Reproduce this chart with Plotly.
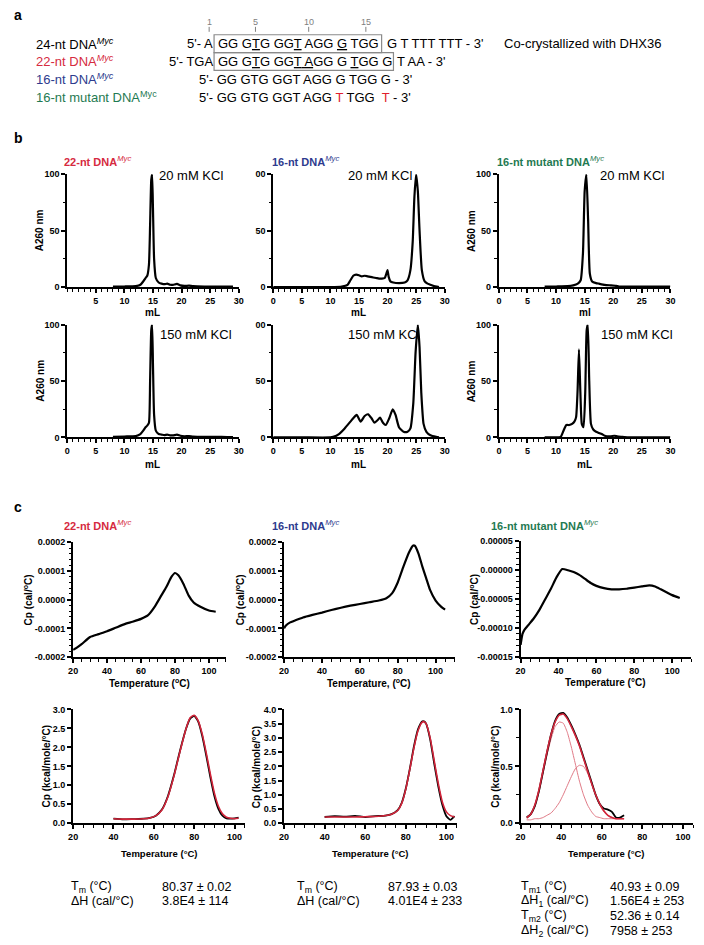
import plotly.graph_objects as go

# page geometry: the browser adds an 8px body margin, so every position below is given in
# page pixels and shifted by that margin inside a 696x937 figure.
PAGE_OFF = 8
FW, FH = 696, 937
FONT = "Liberation Sans, Arial, Helvetica, sans-serif"
RED = "#d62a40"
BLUE = "#2e3b8e"
GREEN = "#1f7a52"
FIT_RED = "#d3243a"
COMP_RED = "#e07a86"
GREY = "#808080"

# ---------------- panel b : size-exclusion chromatograms (A260 vs mL) ----------------
b_ml_22nt_20mM = [8, 10, 12, 12.8, 13.3, 13.7, 14.0, 14.3, 14.5, 14.7, 14.85, 15.0, 15.2, 15.5, 16.0, 16.5,
                  17.0, 17.5, 18.0, 18.5, 19.2, 19.8, 20.5, 21.3, 22, 24, 26, 28, 29]
b_a260_22nt_20mM = [0.5, 0.5, 0.8, 2, 5, 8, 10, 20, 55, 95, 100, 70, 25, 8, 4, 3,
                    2.5, 3, 2, 2, 2.8, 1.5, 1, 1.2, 0.8, 0.5, 0.5, 0.4, 0.4]

b_ml_16nt_20mM = [0, 5, 10, 12, 13, 13.5, 14, 14.5, 15, 15.5, 16, 16.5, 17, 17.5, 18, 18.5, 19, 19.5, 19.8,
                  20.0, 20.2, 20.5, 21, 22, 23, 23.5, 24, 24.4, 24.7, 25.0, 25.3, 25.6, 26.0, 26.5, 27, 27.5, 28, 29]
b_a260_16nt_20mM = [0, 0, 0, 0.5, 2, 6, 10, 11, 10.5, 9.5, 10, 9.5, 9, 8.5, 8, 7.5, 7.5, 8, 12,
                    15, 9, 5, 4, 3.5, 4, 6, 15, 40, 80, 100, 85, 50, 15, 5, 3, 2, 1, 0]

b_ml_mut_20mM = [8, 10, 12, 13, 13.8, 14.3, 14.7, 15.0, 15.3, 15.6, 15.9, 16.3, 17, 17.5, 18.5, 19.5, 20.5,
                 21, 23, 26, 30]
b_a260_mut_20mM = [0.3, 0.5, 0.8, 1.5, 3, 6, 30, 85, 100, 60, 12, 5, 3.5, 3, 2, 1.5, 1,
                   0.5, 0.3, 0.3, 0.3]

b_ml_22nt_150mM = [8, 10, 12, 12.8, 13.3, 13.7, 14.0, 14.3, 14.5, 14.7, 14.85, 15.0, 15.2, 15.5, 16.0, 16.5,
                   17.0, 17.5, 18.0, 18.5, 19.2, 19.8, 20.5, 21.3, 22, 24, 26, 28, 29]
b_a260_22nt_150mM = [0.5, 0.8, 1.2, 3, 6, 9, 10.5, 13, 50, 95, 100, 65, 20, 6, 3, 2.5,
                     2, 2.5, 1.8, 1.8, 2.5, 1.5, 1, 1.2, 0.8, 0.5, 0.5, 0.3, 0.3]

b_ml_16nt_150mM = [0, 5, 10, 10.5, 11.5, 12.5, 13.5, 14.0, 14.6, 15.3, 16.0, 16.6, 17.2, 17.7, 18.2, 18.7,
                   19.2, 19.7, 20.3, 20.9, 21.4, 22.0, 22.8, 23.5, 24.0, 24.5, 24.9, 25.3, 25.6, 25.9,
                   26.3, 26.8, 27.5, 28.5, 29]
b_a260_16nt_150mM = [0, 0, 0, 0.5, 3, 8, 14, 17, 20, 14, 19, 20.5, 17, 13, 15, 17.5,
                     13, 11, 17, 25, 20, 9, 5, 5, 8, 30, 75, 100, 80, 40,
                     12, 5, 2, 0.5, 0]

b_ml_mut_150mM = [8, 10, 10.8, 11.3, 11.8, 12.3, 12.8, 13.2, 13.5, 13.75, 14.0, 14.25, 14.5, 14.8, 15.1,
                  15.35, 15.55, 15.8, 16.1, 16.5, 17.0, 17.5, 18.0, 18.5, 19.5, 20.2, 20.7, 21.5, 22, 23, 26, 30]
b_a260_mut_150mM = [0, 0, 0.5, 6, 11, 11, 12, 14, 18, 40, 78, 40, 12, 9, 40,
                    95, 100, 50, 12, 7, 5, 4, 3, 1.5, 1, 1.5, 1, 0.5, 0.2, 0, 0, 0]

# ---------------- panel c, row 1 : raw DSC traces ----------------
c_T_22nt_raw = [20, 22, 25, 30, 35, 40, 45, 50, 55, 60, 64, 68, 72, 75, 78, 80, 82, 85, 88, 91, 95, 100, 104]
c_cp_22nt_raw = [-1.75e-4, -1.68e-4, -1.55e-4, -1.30e-4, -1.20e-4, -1.10e-4, -0.98e-4, -0.86e-4, -0.77e-4,
                 -0.67e-4, -0.55e-4, -0.25e-4, 0.15e-4, 0.45e-4, 0.80e-4, 0.93e-4, 0.85e-4, 0.55e-4,
                 0.15e-4, -0.10e-4, -0.25e-4, -0.38e-4, -0.42e-4]

c_T_16nt_raw = [20, 21, 23, 26, 30, 35, 40, 45, 50, 55, 60, 65, 70, 74, 77, 80, 83, 86, 88, 89, 91, 93, 95,
                97, 100, 103, 105]
c_cp_16nt_raw = [-1.0e-4, -0.9e-4, -0.8e-4, -0.72e-4, -0.62e-4, -0.53e-4, -0.45e-4, -0.36e-4, -0.28e-4,
                 -0.21e-4, -0.15e-4, -0.09e-4, -0.03e-4, 0.05e-4, 0.22e-4, 0.6e-4, 1.15e-4, 1.65e-4,
                 1.88e-4, 1.88e-4, 1.6e-4, 1.15e-4, 0.75e-4, 0.35e-4, -0.03e-4, -0.25e-4, -0.35e-4]

c_T_mut_raw = [20, 21, 22, 24, 27, 30, 33, 36, 39, 42, 45, 48, 51, 54, 57, 60, 64, 68, 72, 76, 80, 84, 88,
               91, 94, 97, 100, 104]
c_cp_mut_raw = [-12.9e-5, -11.0e-5, -10.3e-5, -9.5e-5, -8.3e-5, -6.8e-5, -5.0e-5, -3.2e-5, -1.2e-5, 0.2e-5,
                0.0e-5, -0.3e-5, -0.8e-5, -1.5e-5, -2.2e-5, -2.7e-5, -3.1e-5, -3.3e-5, -3.3e-5, -3.2e-5,
                -3.0e-5, -2.8e-5, -2.6e-5, -2.8e-5, -3.3e-5, -3.8e-5, -4.3e-5, -4.8e-5]

# ---------------- panel c, row 2 : baseline-corrected Cp with fits ----------------
c_T_22nt = [40, 45, 50, 55, 58, 61, 64, 67, 70, 73, 76, 78, 80, 82, 84, 86, 88, 90, 92, 94, 96, 98, 100, 102]
c_cp_22nt_data = [0.12, 0.10, 0.11, 0.12, 0.14, 0.20, 0.36, 0.72, 1.27, 1.92, 2.50, 2.76, 2.83, 2.68, 2.30,
                  1.78, 1.22, 0.72, 0.38, 0.20, 0.13, 0.12, 0.13, 0.15]
c_cp_22nt_fit = [0.12, 0.11, 0.11, 0.12, 0.14, 0.20, 0.35, 0.70, 1.25, 1.90, 2.50, 2.78, 2.85, 2.70, 2.35,
                 1.85, 1.30, 0.80, 0.45, 0.25, 0.16, 0.13, 0.12, 0.13]

c_T_16nt = [40, 45, 50, 55, 60, 65, 70, 73, 76, 78, 80, 82, 84, 86, 88, 89, 90, 92, 94, 96, 98, 100, 102, 104]
c_cp_16nt_data = [0.22, 0.25, 0.23, 0.26, 0.22, 0.25, 0.27, 0.32, 0.46, 0.72, 1.22, 1.92, 2.70, 3.30, 3.58,
                  3.58, 3.50, 2.95, 2.10, 1.30, 0.65, 0.25, 0.12, 0.25]
c_cp_16nt_fit = [0.22, 0.22, 0.22, 0.22, 0.23, 0.24, 0.27, 0.32, 0.45, 0.70, 1.20, 1.90, 2.65, 3.25, 3.55,
                 3.57, 3.50, 3.00, 2.20, 1.40, 0.75, 0.40, 0.27, 0.22]

c_T_mut = [23, 25, 27, 29, 31, 33, 35, 37, 39, 41, 43, 45, 47, 49, 51, 53, 55, 57, 59, 61, 63, 65, 67, 69, 71]
c_cp_mut_data = [0.05, 0.08, 0.15, 0.28, 0.45, 0.62, 0.78, 0.90, 0.96, 0.97, 0.93, 0.86, 0.78, 0.69, 0.58,
                 0.47, 0.36, 0.25, 0.17, 0.13, 0.12, 0.10, 0.05, 0.05, 0.07]
c_cp_mut_fit = [0.05, 0.08, 0.16, 0.29, 0.46, 0.63, 0.78, 0.89, 0.95, 0.96, 0.92, 0.85, 0.77, 0.68, 0.57,
                0.46, 0.35, 0.25, 0.17, 0.11, 0.07, 0.05, 0.04, 0.04, 0.04]
c_cp_mut_comp1 = [0.04, 0.07, 0.15, 0.27, 0.43, 0.60, 0.74, 0.85, 0.89, 0.88, 0.80, 0.67, 0.52, 0.37, 0.25,
                  0.16, 0.10, 0.06, 0.05, 0.04, 0.04, 0.04, 0.04, 0.04, 0.04]
c_cp_mut_comp2 = [0.03, 0.03, 0.04, 0.04, 0.05, 0.07, 0.09, 0.13, 0.18, 0.25, 0.33, 0.41, 0.48, 0.51, 0.50,
                  0.44, 0.35, 0.25, 0.16, 0.10, 0.07, 0.05, 0.04, 0.04, 0.04]

# ---------------- tick labels ----------------
sec_y_ticks = [0, 50, 100]
sec_y_ticktext = ["0", "50", "100"]
sec_y_ticktext_cut = ["0", "50", "00"]
sec_x_ticks = [0, 5, 10, 15, 20, 25, 30]
cp_raw_ticks = [-2e-4, -1e-4, 0, 1e-4, 2e-4]
cp_raw_ticktext = ["-0.0002", "-0.0001", "0.0000", "0.0001", "0.0002"]
cp_mut_ticks = [-1.5e-4, -1e-4, -0.5e-4, 0, 0.5e-4]
cp_mut_ticktext = ["-0.00015", "-0.00010", "-0.00005", "0.00000", "0.00005"]
temp_ticks = [20, 40, 60, 80, 100]

fig = go.Figure()


def fx(p):
    return (p - PAGE_OFF) / FW


def fy(p):
    return 1 - (p - PAGE_OFF) / FH


TICKFONT = dict(family=FONT, size=9, color="black", weight="bold")


def axis(dom, rng, tickvals, ticktext, minor_vals, anchor, is_y):
    if is_y:
        domain = [fy(dom[1]), fy(dom[0])]
    else:
        domain = [fx(dom[0]), fx(dom[1])]
    return dict(domain=domain, range=rng, anchor=anchor, showline=True, linecolor="black", linewidth=2,
                ticks="outside", ticklen=4, tickwidth=1.5, tickcolor="black", showgrid=False,
                zeroline=False, tickmode="array", tickvals=tickvals, ticktext=ticktext,
                tickfont=TICKFONT, fixedrange=True,
                minor=dict(tickmode="array", tickvals=minor_vals, ticks="outside", ticklen=2.5,
                           tickwidth=1.2, tickcolor="black", showgrid=False))


layout_axes = {}
panel_index = [0]


def add_panel(xdom, ydom, xr, yr, xt, xtt, xm, yt, ytt, ym, traces):
    panel_index[0] += 1
    i = panel_index[0]
    xs = "x" if i == 1 else f"x{i}"
    ys = "y" if i == 1 else f"y{i}"
    xk = "xaxis" if i == 1 else f"xaxis{i}"
    yk = "yaxis" if i == 1 else f"yaxis{i}"
    layout_axes[xk] = axis(xdom, xr, xt, xtt, xm, ys, False)
    layout_axes[yk] = axis(ydom, yr, yt, ytt, ym, xs, True)
    for xv, yv, color, width in traces:
        fig.add_trace(go.Scatter(x=xv, y=yv, mode="lines", xaxis=xs, yaxis=ys, hoverinfo="skip",
                                 line=dict(color=color, width=width, shape="spline", smoothing=0.5)))


ml_minor = list(range(0, 31))
sec_minor = [25, 75]

# panel b row 1
add_panel((63, 237), (171, 285), [0, 30], [0, 100], sec_x_ticks[1:], [str(v) for v in sec_x_ticks[1:]],
          ml_minor, sec_y_ticks, sec_y_ticktext, sec_minor,
          [(b_ml_22nt_20mM, b_a260_22nt_20mM, "black", 2.2)])
add_panel((272, 446), (171, 285), [0, 30], [0, 100], sec_x_ticks, [str(v) for v in sec_x_ticks],
          ml_minor, sec_y_ticks, sec_y_ticktext_cut, sec_minor,
          [(b_ml_16nt_20mM, b_a260_16nt_20mM, "black", 2.2)])
add_panel((501, 675), (171, 285), [0, 30], [0, 100], sec_x_ticks, [str(v) for v in sec_x_ticks],
          ml_minor, sec_y_ticks, sec_y_ticktext, sec_minor,
          [(b_ml_mut_20mM, b_a260_mut_20mM, "black", 2.2)])
# panel b row 2
add_panel((63, 237), (323, 437), [0, 30], [0, 100], sec_x_ticks, [str(v) for v in sec_x_ticks],
          ml_minor, sec_y_ticks, sec_y_ticktext, sec_minor,
          [(b_ml_22nt_150mM, b_a260_22nt_150mM, "black", 2.2)])
add_panel((272, 446), (323, 437), [0, 30], [0, 100], sec_x_ticks, [str(v) for v in sec_x_ticks],
          ml_minor, sec_y_ticks, sec_y_ticktext_cut, sec_minor,
          [(b_ml_16nt_150mM, b_a260_16nt_150mM, "black", 2.2)])
add_panel((501, 675), (323, 437), [0, 30], [0, 100], sec_x_ticks, [str(v) for v in sec_x_ticks],
          ml_minor, sec_y_ticks, sec_y_ticktext, sec_minor,
          [(b_ml_mut_150mM, b_a260_mut_150mM, "black", 2.2)])

t_minor_110 = list(range(20, 111, 5))
t_minor_105 = list(range(20, 106, 5))
raw_minor = [v * 1e-5 for v in range(-20, 21, 2)]
mut_minor = [v * 1e-5 for v in range(-15, 6, 1)]

# panel c row 1
add_panel((69, 224), (543, 659), [20, 110], [-2e-4, 2e-4], temp_ticks, [str(v) for v in temp_ticks],
          t_minor_110, cp_raw_ticks, cp_raw_ticktext, raw_minor,
          [(c_T_22nt_raw, c_cp_22nt_raw, "black", 2.2)])
add_panel((283, 456), (543, 659), [20, 110], [-2e-4, 2e-4], temp_ticks, [str(v) for v in temp_ticks],
          t_minor_110, cp_raw_ticks, cp_raw_ticktext, raw_minor,
          [(c_T_16nt_raw, c_cp_16nt_raw, "black", 2.2)])
add_panel((523, 696), (542, 659), [20, 110], [-1.5e-4, 0.5e-4], temp_ticks, [str(v) for v in temp_ticks],
          t_minor_110, cp_mut_ticks, cp_mut_ticktext, mut_minor,
          [(c_T_mut_raw, c_cp_mut_raw, "black", 2.2)])
# panel c row 2
add_panel((69, 243), (712, 827), [20, 105], [0, 3], temp_ticks, [str(v) for v in temp_ticks],
          t_minor_105, [0, 0.5, 1, 1.5, 2, 2.5, 3], ["0.0", "0.5", "1.0", "1.5", "2.0", "2.5", "3.0"], [],
          [(c_T_22nt, c_cp_22nt_data, "black", 1.8), (c_T_22nt, c_cp_22nt_fit, FIT_RED, 1.6)])
add_panel((283, 458), (712, 827), [20, 105], [0, 4], temp_ticks, [str(v) for v in temp_ticks],
          t_minor_105, [0, 0.5, 1, 1.5, 2, 2.5, 3, 3.5, 4],
          ["0.0", "0.5", "1.0", "1.5", "2.0", "2.5", "3.0", "3.5", "4.0"], [],
          [(c_T_16nt, c_cp_16nt_data, "black", 1.8), (c_T_16nt, c_cp_16nt_fit, FIT_RED, 1.6)])
add_panel((523, 698), (712, 827), [20, 105], [0, 1], temp_ticks, [str(v) for v in temp_ticks],
          t_minor_105, [0, 0.5, 1], ["0.0", "0.5", "1.0"], [0.25, 0.75],
          [(c_T_mut, c_cp_mut_comp1, COMP_RED, 1), (c_T_mut, c_cp_mut_comp2, COMP_RED, 1),
           (c_T_mut, c_cp_mut_data, "black", 1.8), (c_T_mut, c_cp_mut_fit, FIT_RED, 1.6)])


def txt(x, y, s, size=13, color="black", xanchor="left", yanchor="middle", angle=0):
    fig.add_annotation(x=fx(x), y=fy(y), xref="paper", yref="paper", text=s, showarrow=False,
                       xanchor=xanchor, yanchor=yanchor, textangle=angle, borderpad=0,
                       font=dict(family=FONT, size=size, color=color))


def U(s):
    return f"<span style='text-decoration:underline'>{s}</span>"


# ---------------- panel a ----------------
SEQ = 13
ROWS = [39, 57, 75, 93]
txt(8, 10, "<b>a</b>", 14)
for xn, lab in [(207, "1"), (254, "5"), (308, "10"), (366, "15")]:
    txt(xn, 17, lab, 9, GREY, xanchor="center")
    fig.add_shape(type="line", xref="paper", yref="paper", x0=fx(xn), x1=fx(xn), y0=fy(22), y1=fy(27),
                  line=dict(color=GREY, width=1))

txt(30, ROWS[0], "24-nt DNA<sup><i>Myc</i></sup>", SEQ, "black")
txt(30, ROWS[1], "22-nt DNA<sup><i>Myc</i></sup>", SEQ, RED)
txt(30, ROWS[2], "16-nt DNA<sup><i>Myc</i></sup>", SEQ, BLUE)
txt(30, ROWS[3], "16-nt mutant DNA<sup>Myc</sup>", SEQ, GREEN)

txt(212, ROWS[0], "5'- A", SEQ, xanchor="right")
txt(215, ROWS[0], f"GG G{U('T')}G GG{U('T')} AGG {U('G')} TGG", SEQ)
txt(386, ROWS[0], "G T TTT TTT - 3'", SEQ)
txt(505, ROWS[0], "Co-crystallized with DHX36", SEQ)

txt(212, ROWS[1], "5'- TGA", SEQ, xanchor="right")
txt(215, ROWS[1], f"GG G{U('T')}G GG{U('T')}{U(' A')}GG G {U('T')}GG G", SEQ)
txt(397, ROWS[1], "T AA - 3'", SEQ)

txt(196, ROWS[2], "5'- GG GTG GGT AGG G TGG G - 3'", SEQ)
txt(196, ROWS[3], "5'- GG GTG GGT AGG <span style='color:#e0202e'>T</span> TGG  "
                  "<span style='color:#e0202e'>T</span> - 3'", SEQ)

fig.add_shape(type="rect", xref="paper", yref="paper", x0=fx(212), x1=fx(382), y0=fy(48), y1=fy(30),
              line=dict(color="#8a8a8a", width=1.2))
fig.add_shape(type="rect", xref="paper", yref="paper", x0=fx(212), x1=fx(394), y0=fy(66), y1=fy(48),
              line=dict(color="#8a8a8a", width=1.2))

# ---------------- panel b text ----------------
txt(8, 134, "<b>b</b>", 14)
txt(59, 158, "<b>22-nt DNA</b><sup><i>Myc</i></sup>", 11, RED)
txt(270, 158, "<b>16-nt DNA</b><sup><i>Myc</i></sup>", 11, BLUE)
txt(498, 158, "<b>16-nt mutant DNA</b><sup><i>Myc</i></sup>", 11, GREEN)
for xk in (155, 347, 603):
    txt(xk, 172, "20 mM KCl", 13)
for xk in (156, 347, 604):
    txt(xk, 333, "150 mM KCl", 13)
for xc, yc in [(35, 228), (473, 228), (35, 380), (473, 380)]:
    txt(xc, yc, "<b>A260 nm</b>", 10, angle=-90, xanchor="center")
txt(150, 311, "<b>mL</b>", 10, xanchor="center")
txt(359, 311, "<b>mL</b>", 10, xanchor="center")
txt(588, 311, "<b>ml</b>", 10, xanchor="center")
for xc in (150, 359, 588):
    txt(xc, 464, "<b>mL</b>", 10, xanchor="center")

# ---------------- panel c text ----------------
txt(8, 507, "<b>c</b>", 14)
txt(59, 526, "<b>22-nt DNA</b><sup><i>Myc</i></sup>", 11, RED)
txt(270, 526, "<b>16-nt DNA</b><sup><i>Myc</i></sup>", 11, BLUE)
txt(492, 526, "<b>16-nt mutant DNA</b><sup><i>Myc</i></sup>", 11, GREEN)
for xc in (23, 238, 475):
    txt(xc, 601, "<b>Cp (cal/<sup>o</sup>C)</b>", 10, angle=-90, xanchor="center")
txt(146, 685, "<b>Temperature (<sup>o</sup>C)</b>", 10, xanchor="center")
txt(369, 685, "<b>Temperature, (<sup>o</sup>C)</b>", 10, xanchor="center")
txt(609, 685, "<b>Temperature (°C)</b>", 10, xanchor="center")
for xc in (42, 255, 498):
    txt(xc, 770, "<b>Cp (kcal/mole/°C)</b>", 10, angle=-90, xanchor="center")
for xc in (156, 370, 610):
    txt(xc, 858, "<b>Temperature (°C)</b>", 9.5, xanchor="center")

# ---------------- thermodynamic parameters ----------------
ST = 12.5
L1, L2, L3, L4 = 891, 906, 921, 936
txt(66, L1, "T<sub>m</sub> (°C)", ST)
txt(66, L2, "ΔH (cal/°C)", ST)
txt(158, L1, "80.37 ± 0.02", ST)
txt(158, L2, "3.8E4 ± 114", ST)
txt(295, L1, "T<sub>m</sub> (°C)", ST)
txt(295, L2, "ΔH (cal/°C)", ST)
txt(387, L1, "87.93 ± 0.03", ST)
txt(387, L2, "4.01E4 ± 233", ST)
txt(522, L1, "T<sub>m1</sub> (°C)", ST)
txt(522, L2, "ΔH<sub>1</sub> (cal/°C)", ST)
txt(522, L3, "T<sub>m2</sub> (°C)", ST)
txt(522, L4, "ΔH<sub>2</sub> (cal/°C)", ST)
txt(613, L1, "40.93 ± 0.09", ST)
txt(613, L2, "1.56E4 ± 253", ST)
txt(613, L3, "52.36 ± 0.14", ST)
txt(613, L4, "7958 ± 253", ST)

fig.update_layout(width=FW, height=FH, margin=dict(l=0, r=0, t=0, b=0), paper_bgcolor="white",
                  plot_bgcolor="white", showlegend=False, font=dict(family=FONT), **layout_axes)

fig.write_html("out.html")
